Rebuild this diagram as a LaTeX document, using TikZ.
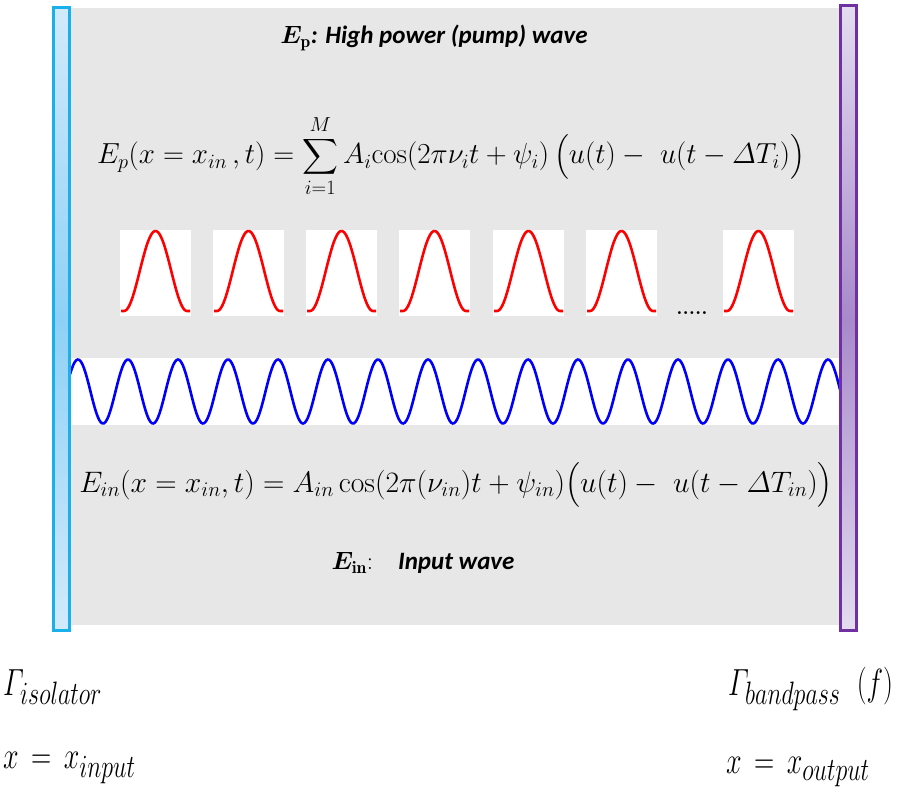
\documentclass[tikz,border=0pt]{standalone}
\usepackage{fix-cm}
\usepackage{amsmath,bm}
\usepackage{fontspec}
\newfontfamily\calib{Carlito}
\DeclareMathSizes{28}{28}{24}{18}
\definecolor{panelgray}{HTML}{E7E7E7}
\definecolor{isoedge}{HTML}{1AB0EA}
\definecolor{isolight}{HTML}{D2EAFB}
\definecolor{isomid}{HTML}{8ED1F6}
\definecolor{bpedge}{HTML}{7030A0}
\definecolor{bplight}{HTML}{E3DCEF}
\definecolor{bpmid}{HTML}{A889CB}
\newcommand{\tallmath}[1]{\scalebox{1}[1.35]{$#1$}}
\begin{document}
\begin{tikzpicture}[x=1pt, y=-1pt,
  pulse/.style={red, line width=2.6pt, line join=round},
  wave/.style={blue, line width=2.6pt},
  eqn/.style={font=\fontsize{29}{34}\selectfont, inner sep=0pt},
  lab/.style={font=\fontsize{28}{32}\selectfont, inner sep=0pt, anchor=west},
  tag/.style={font=\fontsize{25}{28}\selectfont, inner sep=0pt}]
\useasboundingbox (0,0) rectangle (900,800);
\fill[panelgray](69,8) rectangle (840,625);
\fill[white](70,358) rectangle (840,425);
\begin{scope}
\clip (70,358) rectangle (840,425);
\draw[wave] plot[domain=70:840, samples=500, variable=\t] (\t,{391.5-32*cos(7.2*(\t-78))});
\end{scope}
\foreach \x in {120,213,306,399,493,586,723}
{
    \fill[white](\x,230) rectangle (\x+71,316);
    \draw[pulse] (\x+1,311) -- (\x+4,311) -- plot[domain=0:1, samples=60, variable=\t] ({\x+4+63*\t},{311-80*(1-cos(360*\t))/2}) -- (\x+70,311);
}
\node[font=\fontsize{20}{20}\selectfont\bfseries] (dots) at (692,313) {.....};
\shade[top color=isolight, bottom color=isolight, middle color=isomid](53,8) rectangle (69,630);
\draw[isoedge, line width=3pt](53,8) rectangle (69,630);
\shade[top color=bplight, bottom color=bplight, middle color=bpmid](840,6) rectangle (856,630);
\draw[bpedge, line width=3pt](840,6) rectangle (856,630);
\node[tag] (pumptag) at (434,38) {$\boldsymbol{E}_{\mathbf{p}}${\calib\bfseries\itshape : High power (pump) wave}};
\node[eqn] (pumpeq) at (451,156) {$\displaystyle E_p(x = x_{in}\,, t) = \sum_{i=1}^{M} A_i\!\cos(2\pi \nu_i t + \psi_i)\,\bigl(u(t) -\ u(t - \varDelta T_i)\bigr)$};
\node[eqn, font=\fontsize{29.6}{34}\selectfont] (ineq) at (456,485) {$E_{in}(x = x_{in}, t) = A_{in}\cos(2\pi(\nu_{in})t + \psi_{in})\bigl(u(t) -\ u(t - \varDelta T_{in})\bigr)$};
\node[tag] (intag) at (423,563) {$\boldsymbol{E}_{\mathbf{in}}$:\quad{\calib\bfseries\itshape Input wave}};
\node[lab] (isolator) at (3,687) {\tallmath{\varGamma_{isolator}}};
\node[lab] (xinput) at (3,768) {\tallmath{x \,=\, x_{input}}};
\node[lab] (bandpass) at (728,689) {\tallmath{\varGamma_{bandpass}\;\ (f)}};
\node[lab] (xoutput) at (726,772) {\tallmath{x \,=\, x_{output}}};
\end{tikzpicture}
\end{document}
